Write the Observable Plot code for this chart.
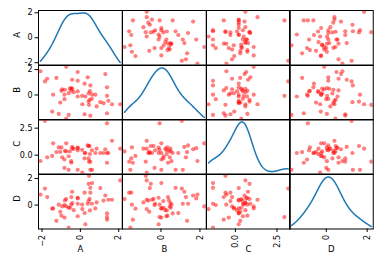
<!DOCTYPE html>
<html><head><meta charset="utf-8">
<script src="https://cdn.jsdelivr.net/npm/d3@7"></script>
<script src="https://cdn.jsdelivr.net/npm/@observablehq/plot@0.6"></script>
<style>
body{margin:0;background:#fff;}
#chart{position:relative;width:383px;height:266px;overflow:hidden;background:#fff;}
#chart svg{position:absolute;}
</style></head><body><div id="chart"></div>
<script>
const columns = ["A","B","C","D"];
const A = [-2.08,-1.85,-1.73,-1.47,-1.42,-1.25,-1.13,-0.99,-0.83,-0.83,-0.81,-0.74,-0.74,-0.61,-0.61,-0.48,-0.47,-0.43,-0.42,-0.35,-0.14,-0.14,-0.14,-0.14,0.09,0.10,0.22,0.22,0.26,0.38,0.43,0.43,0.45,0.48,0.52,0.52,0.61,0.78,1.04,1.21,1.30,1.39,1.39,1.39,1.46,1.65,2.08,0.60,-0.95,0.85,-0.55,-1.05,0.50];
const B = [1.87,1.07,1.28,-1.31,0.02,1.34,-1.49,0.33,0.02,-0.33,0.41,2.22,-1.87,0.14,-1.57,0.54,0.36,1.20,0.49,0.22,1.81,1.12,0.28,-0.12,-0.07,-0.73,0.89,-1.52,-0.12,1.39,0.12,-0.52,-0.78,-0.38,0.75,-1.63,0.02,0.02,-0.57,-0.65,1.65,0.60,-0.07,-1.44,-0.46,-0.73,-0.73,-0.30,0.45,-0.90,0.50,-0.60,0.30];
const C = [-0.54,3.18,-0.20,-0.07,1.10,0.29,0.72,0.72,-0.40,-1.18,0.40,1.10,0.35,-0.10,-1.35,-0.55,-0.70,0.76,0.60,0.60,0.65,-1.35,0.45,0.70,0.50,-1.62,0.20,-0.30,0.20,0.90,-0.30,0.85,-0.60,0.85,-1.35,-0.60,-1.35,0.20,0.20,0.20,0.55,0.20,2.95,-0.70,0.20,1.33,0.60,0.45,-0.20,0.60,0.35,0.30,0.10];
const D = [0.79,1.24,0.60,-0.27,-0.25,-1.18,0.03,-0.80,-0.94,0.00,0.35,-0.10,0.45,-0.20,-1.70,0.03,0.60,1.00,0.15,-0.38,0.50,0.10,-0.84,0.55,0.04,-0.30,-0.60,0.93,-1.44,0.10,0.30,1.60,2.20,0.46,1.30,0.93,1.65,-0.25,1.28,0.34,0.72,-0.63,-0.90,-1.10,0.40,0.40,1.85,0.10,-0.10,0.20,-0.20,-0.50,-0.40];
const tickValues = {A:[-2,0,2], B:[0,2], C:[0,2.5], D:[0,2]};

const series = {A, B, C, D};
const rows = A.map((_, k) => ({A: A[k], B: B[k], C: C[k], D: D[k]}));

// pandas scatter_matrix: range padding 0.05
const bounds = {};
for (const c of columns) {
  const [mn, mx] = d3.extent(series[c]);
  const ext = (mx - mn) * 0.05 / 2;
  bounds[c] = [mn - ext, mx + ext];
}
// gaussian kde, Scott's rule
function kde(vals, nPts) {
  const n = vals.length, sd = d3.deviation(vals), h = sd * Math.pow(n, -0.2);
  const [mn, mx] = d3.extent(vals);
  return d3.range(nPts).map(k => {
    const x = mn + (mx - mn) * k / (nPts - 1);
    return {x, d: d3.sum(vals, v => Math.exp(-0.5 * ((x - v) / h) ** 2)) / (n * h * Math.sqrt(2 * Math.PI))};
  });
}

const L = 38, T = 10, CW = 83.75, CH = 54.5, ML = 38, MB = 40;
const fmtX = c => d => c === "C" ? d.toFixed(1).replace("-", "\u2212") : String(d).replace("-", "\u2212");
const fmtY = (c, i) => d => {
  const s = c === "C" ? d.toFixed(1) : String(d);
  return i === 0 ? s : s.replace("-", "\u2212");
};
const chart = document.getElementById("chart");
const font = "DejaVu Sans, sans-serif";

columns.forEach((ci, i) => {
  columns.forEach((cj, j) => {
    const left = j === 0, bottom = i === columns.length - 1;
    const marks = [];
    if (i === j) {
      const pts = kde(series[ci], 300);
      const [d0, d1] = d3.extent(pts, p => p.d);
      const pad = (d1 - d0) * 0.05;
      const lo = d0 - pad, hi = d1 + pad;
      const [b0, b1] = bounds[ci];
      const mapped = pts.map(p => ({x: p.x, y: b0 + (p.d - lo) / (hi - lo) * (b1 - b0)}));
      marks.push(Plot.line(mapped, {x: "x", y: "y", stroke: "#1f77b4", strokeWidth: 1.5, clip: true}));
    } else {
      marks.push(Plot.dot(rows, {x: cj, y: ci, r: 2.1, fill: "#ff0000", fillOpacity: 0.5, stroke: "none", clip: true}));
    }
    marks.push(Plot.frame({stroke: "#000", strokeWidth: 1}));
    if (left) {
      marks.push(Plot.axisY({ticks: tickValues[ci], tickFormat: fmtY(ci, i), tickSize: 3.5, tickPadding: 2.5, fontSize: 8, label: null}));
      marks.push(Plot.text([ci], {frameAnchor: "left", dx: -21, rotate: -90, fontSize: 8.5, fill: "#000"}));
    }
    if (bottom) {
      marks.push(Plot.axisX({ticks: tickValues[cj], tickFormat: fmtX(cj), tickSize: 3.5, tickPadding: 2.5, tickRotate: -90, fontSize: 8, label: null}));
      marks.push(Plot.text([cj], {frameAnchor: "bottom", dy: 23, fontSize: 8.5, fill: "#000"}));
    }
    const svg = Plot.plot({
      width: CW + (left ? ML : 0),
      height: CH + (bottom ? MB : 0),
      marginLeft: left ? ML : 0, marginRight: 0, marginTop: 0, marginBottom: bottom ? MB : 0,
      x: {domain: bounds[cj], axis: null},
      y: {domain: bounds[ci], axis: null},
      style: {background: "transparent", overflow: "visible", fontFamily: font, maxWidth: "none"},
      marks
    });
    svg.style.left = (left ? 0 : L + j * CW) + "px";
    svg.style.top = (T + i * CH) + "px";
    chart.appendChild(svg);
  });
});
</script></body></html>
